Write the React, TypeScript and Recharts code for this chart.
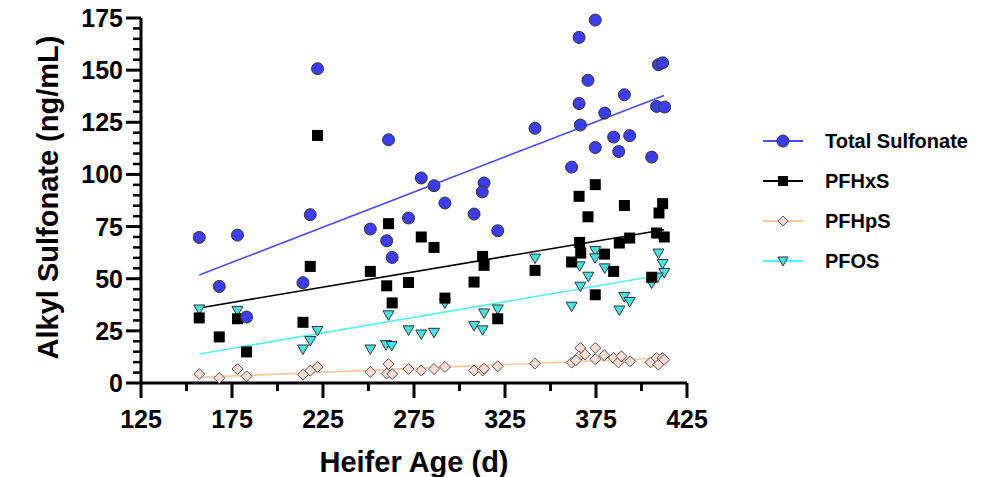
import React from 'react';
import { ScatterChart, Scatter, XAxis, YAxis, Legend } from 'recharts';

// ---- Data ----
const totalAge = [157, 168, 178, 183, 214, 218, 222, 251, 261, 260, 263, 272, 279, 286, 292, 308, 313.5, 312.5, 321, 341.5, 361.6, 365.7, 374.6, 370.6, 365.7, 366.4, 374.6, 379.8, 384.7, 387.5, 390.6, 393.5, 405.6, 409.3, 411.6, 408.3, 412.7];
const totalVal = [69.8, 46.3, 70.9, 31.6, 48.1, 80.7, 150.7, 73.8, 116.6, 68.2, 60.2, 79.1, 98.3, 94.6, 86.3, 81.0, 95.9, 91.6, 73.0, 122.1, 103.5, 165.7, 174.0, 145.1, 134.0, 123.7, 112.9, 129.4, 117.9, 111.0, 138.2, 118.6, 108.3, 152.6, 153.5, 132.6, 132.3];

const pfhxsAge = [157, 168, 178, 183, 214, 218, 222, 251, 260, 263, 261, 272, 279, 286, 292, 308, 312.7, 313.5, 321, 341.5, 361.6, 365.7, 374.6, 370.6, 366, 366.6, 374.6, 379.7, 384.7, 387.8, 390.6, 393.5, 405.6, 408.3, 409.6, 411.6, 412.5];
const pfhxsVal = [31.2, 22.1, 30.8, 14.9, 29.1, 55.9, 118.7, 53.5, 46.6, 38.4, 76.4, 48.2, 70.0, 65.0, 40.7, 48.4, 60.7, 56.4, 30.8, 54.0, 58.0, 89.5, 95.1, 79.7, 67.4, 62.3, 42.3, 61.8, 53.5, 67.1, 85.1, 69.5, 50.7, 71.9, 81.5, 86.0, 70.0];

const pfhpsAge = [157, 168, 178, 183, 214, 218, 222, 251, 260, 261, 263, 272, 279, 286, 292, 308, 312.7, 313.5, 321, 341.5, 361.6, 366.4, 365.7, 364, 369, 374.6, 374.6, 379.5, 384.7, 387.3, 389, 393.7, 405, 408.3, 409.3, 411.6, 412.5];
const pfhpsVal = [4.3, 2.4, 6.7, 3.2, 4.0, 5.9, 7.7, 5.3, 4.5, 9.1, 4.3, 6.7, 6.0, 6.7, 7.7, 6.0, 6.0, 6.9, 8.0, 9.3, 9.8, 16.8, 12.8, 10.9, 13.6, 16.8, 11.4, 13.3, 12.0, 9.9, 12.8, 10.4, 9.9, 12.0, 8.8, 12.0, 11.2];

const pfosAge = [157, 178, 214, 218, 222, 251, 259.6, 262.7, 261, 272, 279, 286, 292, 308, 312.7, 313.5, 321, 341.5, 361.6, 366.4, 366, 370.8, 374.6, 374.5, 379.8, 387.8, 390.5, 393.5, 405.6, 409.3, 411.6, 412.5, 408.9];
const pfosVal = [35.5, 34.8, 16.3, 20.4, 25.2, 16.3, 18.4, 18.0, 32.7, 25.5, 23.5, 24.3, 38.4, 27.6, 25.5, 33.6, 35.5, 59.9, 36.8, 46.4, 56.2, 51.2, 63.5, 60.0, 55.2, 35.0, 41.5, 39.1, 47.9, 62.3, 57.3, 53.0, 50.8];

// Trend line endpoints (age, value)
const trendAge = [157, 412.4];
const trendTotal = [51.8, 137.9];
const trendPfhxs = [36.0, 73.5];
const trendPfhps = [2.7, 12.0];
const trendPfos = [13.9, 52.0];

const xTicks = [125, 150, 175, 200, 225, 250, 275, 300, 325, 350, 375, 400, 425];
const yTicks = Array.from({ length: 36 }, (_, i) => i * 5);

const seriesNames = ['Total Sulfonate', 'PFHxS', 'PFHpS', 'PFOS'];

const zip = (a: number[], b: number[]) => a.map((x, i) => ({ x, y: b[i] }));

const FONT = "'Liberation Sans', Arial, Helvetica, sans-serif";

const BLUE = '#3c3cf2';
const BLUE_LINE = '#4d4df5';
const CYAN = '#40e6e6';
const CYAN_LINE = '#55f2f2';
const PINK = '#fadbd4';
const ORANGE_LINE = '#f8c89a';
const OUTLINE = '#333333';

const Circle = (p: any) => <circle cx={p.cx} cy={p.cy} r={6} fill={BLUE} stroke={OUTLINE} strokeWidth={1} />;
const Square = (p: any) => <rect x={p.cx - 5.5} y={p.cy - 5.5} width={11} height={11} fill="#000" />;
const Diamond = (p: any) => (
  <polygon
    points={`${p.cx},${p.cy - 5.5} ${p.cx + 5.5},${p.cy} ${p.cx},${p.cy + 5.5} ${p.cx - 5.5},${p.cy}`}
    fill={PINK}
    stroke="#555"
    strokeWidth={1}
  />
);
const TriDown = (p: any) => (
  <polygon
    points={`${p.cx - 5.5},${p.cy - 4} ${p.cx + 5.5},${p.cy - 4} ${p.cx},${p.cy + 5.5}`}
    fill={CYAN}
    stroke={OUTLINE}
    strokeWidth={1}
  />
);
const NoShape = () => <g />;

const YTick = (props: any) => {
  const { x, y, payload } = props;
  const v = payload.value;
  const major = v % 25 === 0;
  return (
    <g>
      <line x1={x - (major ? 15 : 8)} x2={x} y1={y} y2={y} stroke="#000" strokeWidth={major ? 3 : 2.5} />
      {major && (
        <text x={x - 18} y={y} textAnchor="end" dominantBaseline="central" fontFamily={FONT} fontWeight="bold" fontSize={25} fill="#000">
          {v}
        </text>
      )}
    </g>
  );
};

const XTick = (props: any) => {
  const { x, y, payload } = props;
  const v = payload.value;
  const major = (v - 125) % 50 === 0;
  return (
    <g>
      <line x1={x} x2={x} y1={y} y2={y + (major ? 15 : 8)} stroke="#000" strokeWidth={3} />
      {major && (
        <text x={x} y={y + 45} textAnchor="middle" fontFamily={FONT} fontWeight="bold" fontSize={25} fill="#000">
          {v}
        </text>
      )}
    </g>
  );
};

const legendDefs = [
  { name: seriesNames[0], line: BLUE_LINE, icon: (cx: number, cy: number) => <circle cx={cx} cy={cy} r={6} fill={BLUE} stroke={OUTLINE} strokeWidth={1} /> },
  { name: seriesNames[1], line: '#000', icon: (cx: number, cy: number) => <rect x={cx - 5} y={cy - 5} width={10} height={10} fill="#000" /> },
  { name: seriesNames[2], line: ORANGE_LINE, icon: (cx: number, cy: number) => <polygon points={`${cx},${cy - 5} ${cx + 5},${cy} ${cx},${cy + 5} ${cx - 5},${cy}`} fill={PINK} stroke="#555" strokeWidth={1} /> },
  { name: seriesNames[3], line: CYAN_LINE, icon: (cx: number, cy: number) => <polygon points={`${cx - 5},${cy - 4} ${cx + 5},${cy - 4} ${cx},${cy + 5}`} fill={CYAN} stroke={OUTLINE} strokeWidth={1} /> },
];

const LegendContent = () => (
  <div style={{ fontFamily: FONT }}>
    {legendDefs.map((d) => (
      <div key={d.name} style={{ display: 'flex', alignItems: 'center', height: 40 }}>
        <svg width={40} height={20} style={{ display: 'block' }}>
          <line x1={0} x2={40} y1={10} y2={10} stroke={d.line} strokeWidth={2} />
          {d.icon(20, 10)}
        </svg>
        <span style={{ marginLeft: 22, fontWeight: 'bold', fontSize: 20, color: '#000', whiteSpace: 'nowrap' }}>{d.name}</span>
      </div>
    ))}
  </div>
);

const YLabel = (props: any) => {
  const vb = props.viewBox;
  const cx = 40;
  const cy = vb.y + vb.height / 2 - 3;
  return (
    <text x={cx} y={cy} transform={`rotate(-90 ${cx} ${cy})`} textAnchor="middle" dominantBaseline="central" fontFamily={FONT} fontWeight="bold" fontSize={29} fill="#000">
      Alkyl Sulfonate (ng/mL)
    </text>
  );
};

const XLabel = (props: any) => {
  const vb = props.viewBox;
  return (
    <text x={vb.x + vb.width / 2} y={vb.y + 89} textAnchor="middle" fontFamily={FONT} fontWeight="bold" fontSize={29} fill="#000">
      Heifer Age (d)
    </text>
  );
};

export default function App() {
  return (
    <div style={{ width: 970, height: 469 }}>
      <ScatterChart width={970} height={469} margin={{ top: 10, right: 291, bottom: 0, left: 0 }} style={{ fontFamily: FONT, overflow: 'visible' }}>
        <XAxis
          type="number"
          dataKey="x"
          domain={[125, 425]}
          ticks={xTicks}
          interval={0}
          height={94}
          tickSize={0}
          tickMargin={0}
          tickLine={false}
          axisLine={{ stroke: '#000', strokeWidth: 3 }}
          tick={<XTick />}
          label={<XLabel />}
        />
        <YAxis
          type="number"
          dataKey="y"
          domain={[0, 175]}
          ticks={yTicks}
          interval={0}
          width={133}
          tickSize={0}
          tickMargin={0}
          tickLine={false}
          axisLine={{ stroke: '#000', strokeWidth: 3 }}
          tick={<YTick />}
          label={<YLabel />}
        />
        <Legend
          layout="horizontal"
          verticalAlign="middle"
          align="center"
          content={<LegendContent />}
          wrapperStyle={{ left: 755, top: 113, width: 215 }}
        />
        <Scatter name="tTotal" data={zip(trendAge, trendTotal)} line={{ stroke: BLUE_LINE, strokeWidth: 1.6 }} shape={<NoShape />} isAnimationActive={false} legendType="none" />
        <Scatter name="tHxS" data={zip(trendAge, trendPfhxs)} line={{ stroke: '#000', strokeWidth: 1.6 }} shape={<NoShape />} isAnimationActive={false} legendType="none" />
        <Scatter name="tHpS" data={zip(trendAge, trendPfhps)} line={{ stroke: ORANGE_LINE, strokeWidth: 1.6 }} shape={<NoShape />} isAnimationActive={false} legendType="none" />
        <Scatter name="tPFOS" data={zip(trendAge, trendPfos)} line={{ stroke: CYAN_LINE, strokeWidth: 1.6 }} shape={<NoShape />} isAnimationActive={false} legendType="none" />
        <Scatter name={seriesNames[2]} data={zip(pfhpsAge, pfhpsVal)} shape={<Diamond />} isAnimationActive={false} />
        <Scatter name={seriesNames[3]} data={zip(pfosAge, pfosVal)} shape={<TriDown />} isAnimationActive={false} />
        <Scatter name={seriesNames[1]} data={zip(pfhxsAge, pfhxsVal)} shape={<Square />} isAnimationActive={false} />
        <Scatter name={seriesNames[0]} data={zip(totalAge, totalVal)} shape={<Circle />} isAnimationActive={false} />
      </ScatterChart>
    </div>
  );
}
